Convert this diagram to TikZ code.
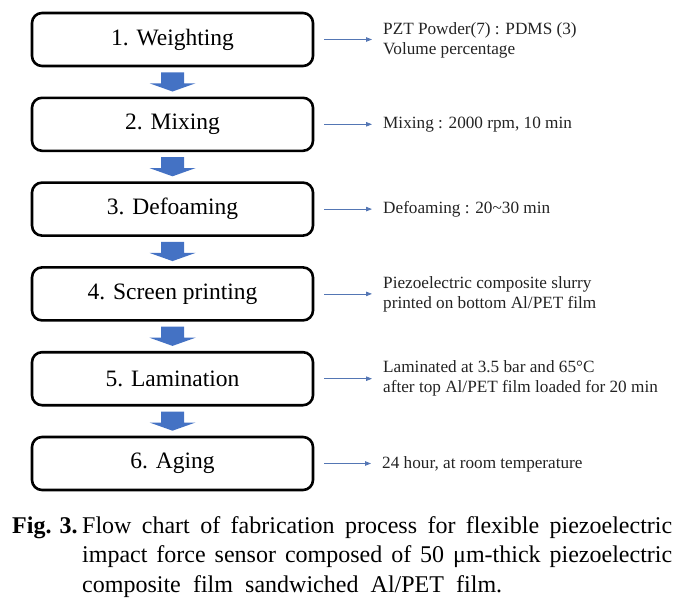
\documentclass[tikz,border=0pt]{standalone}
\usepackage{fontspec}
\setmainfont{Liberation Serif}
\usetikzlibrary{calc,arrows.meta}
\definecolor{blockblue}{RGB}{68,114,196}
\definecolor{thinblue}{RGB}{84,118,180}
\definecolor{labgray}{RGB}{35,35,35}
\begin{document}
\begin{tikzpicture}[x=1pt,y=-1pt,
  stepbox/.style={draw=black, line width=2.6pt, rounded corners=10pt,
    minimum width=281pt, minimum height=53pt, inner sep=0pt,
    font=\fontsize{23.5}{28}\selectfont},
  sidelabel/.style={anchor=west, inner sep=0pt, align=left, text=labgray,
    font=\fontsize{17.2}{20}\selectfont},
  thinarrow/.style={draw=thinblue, line width=0.8pt,
    -{Triangle[length=6pt,width=4.5pt]}, shorten <=10pt, shorten >=11pt},
  captext/.style={inner sep=0pt, font=\fontsize{24}{29.5}\selectfont}
]
\useasboundingbox (0,0) rectangle (691,605);

% process boxes
\node[stepbox] (s1) at (172.5,39.5)  {1. Weighting};
\node[stepbox] (s2) at (172.5,124.3) {2. Mixing};
\node[stepbox] (s3) at (172.5,209.1) {3. Defoaming};
\node[stepbox] (s4) at (172.5,293.9) {4. Screen printing};
\node[stepbox] (s5) at (172.5,378.7) {5. Lamination};
\node[stepbox] (s6) at (172.5,463.5) {6. Aging};

% block arrows between boxes
\foreach \a/\b in {s1/s2,s2/s3,s3/s4,s4/s5,s5/s6}{
  \fill[blockblue] ($(\a.south)+(-11.5,5)$) -- ($(\a.south)+(11.5,5)$)
    -- ($(\a.south)+(11.5,16)$) -- ($(\a.south)+(23,16)$)
    -- ($(\b.north)+(0,-5)$) -- ($(\a.south)+(-23,16)$)
    -- ($(\a.south)+(-11.5,16)$) -- cycle;
}

% side labels
\node[sidelabel] (l1) at (383,40)  {PZT Powder(7) : PDMS (3)\\Volume percentage};
\node[sidelabel] (l2) at (383,125) {Mixing : 2000 rpm, 10 min};
\node[sidelabel] (l3) at (383,209.5) {Defoaming : 20\textasciitilde30 min};
\node[sidelabel] (l4) at (383,294) {Piezoelectric composite slurry\\printed on bottom Al/PET film};
\node[sidelabel] (l5) at (383,378) {Laminated at 3.5 bar and 65°C\\after top Al/PET film loaded for 20 min};
\node[sidelabel] (l6) at (382,464) {24 hour, at room temperature};

\foreach \i in {1,...,6}{
  \draw[thinarrow] (s\i.east) -- (s\i.east -| l\i.west);
}

% caption
\node[captext, anchor=base west, font=\fontsize{24}{29.5}\selectfont\bfseries] (figlab) at (12,533) {Fig. 3.};
\node[captext, anchor=base west, text width=590pt, align=justify] (cap) at (82,533)
  {Flow chart of fabrication process for flexible piezoelectric\linebreak
   impact force sensor composed of 50 μm-thick piezoelectric\linebreak
   \makebox[420pt][s]{composite film sandwiched Al/PET film.}};
\end{tikzpicture}
\end{document}
